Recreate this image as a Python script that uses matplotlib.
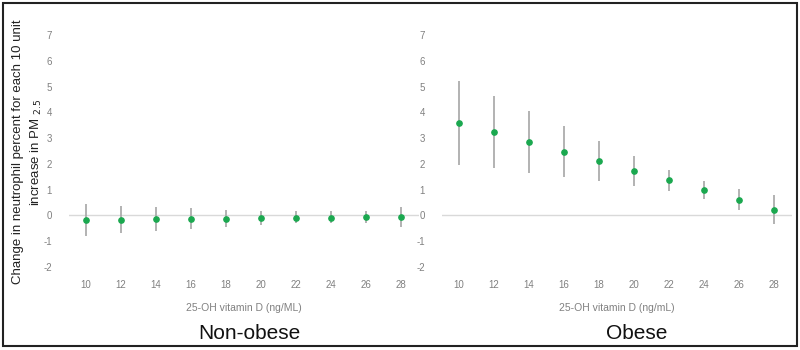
import matplotlib
matplotlib.use("Agg")
import matplotlib.pyplot as plt
from matplotlib.patches import Rectangle

vitd = ["10", "12", "14", "16", "18", "20", "22", "24", "26", "28"]

nonobese_est = [-0.17, -0.16, -0.14, -0.14, -0.12, -0.10, -0.10, -0.08, -0.06, -0.07]
nonobese_lo = [-0.78, -0.68, -0.59, -0.52, -0.44, -0.37, -0.31, -0.30, -0.31, -0.43]
nonobese_hi = [0.45, 0.37, 0.32, 0.27, 0.21, 0.18, 0.17, 0.17, 0.19, 0.31]

obese_est = [3.60, 3.22, 2.86, 2.48, 2.10, 1.72, 1.36, 0.98, 0.60, 0.22]
obese_lo = [1.97, 1.83, 1.64, 1.51, 1.32, 1.16, 0.93, 0.64, 0.20, -0.34]
obese_hi = [5.22, 4.62, 4.04, 3.46, 2.88, 2.31, 1.77, 1.33, 1.02, 0.80]

yticks = [-2, -1, 0, 1, 2, 3, 4, 5, 6, 7]

ylabel_lines = ["Change in neutrophil percent for each 10 unit", "increase in PM $_{2.5}$"]

panels = [
    ("Non-obese", "25-OH vitamin D (ng/ML)", nonobese_est, nonobese_lo, nonobese_hi),
    ("Obese", "25-OH vitamin D (ng/mL)", obese_est, obese_lo, obese_hi),
]

W, H = 800, 350
fig = plt.figure(figsize=(8, 3.5), dpi=100)
plt.rcParams['font.family'] = ['Liberation Sans', 'DejaVu Sans']

ax_left_px = [68.5, 441.5]
ax_w_px = 350
ax_top_px, ax_bot_px = 35, 267
title_cx_px = [249, 637]

green = "#1aa84f"
gray_err = "#a6a6a6"
tick_col = "#808080"

for i, (title, xlabel, est, lo, hi) in enumerate(panels):
    ax = fig.add_axes([ax_left_px[i] / W, 1 - ax_bot_px / H, ax_w_px / W, (ax_bot_px - ax_top_px) / H])
    x = list(range(len(vitd)))
    yerr = [[e - l for e, l in zip(est, lo)], [h - e for e, h in zip(est, hi)]]
    ax.axhline(0, color="#d9d9d9", lw=1.0, zorder=1)
    ax.errorbar(x, est, yerr=yerr, fmt="o", color=green, ms=3.8, ecolor=gray_err,
                elinewidth=1.2, capsize=0, zorder=3)
    ax.set_xlim(-0.5, len(vitd) - 0.5)
    ax.set_ylim(-2, 7)
    ax.set_xticks(x)
    ax.set_xticklabels(vitd)
    ax.set_yticks(yticks)
    ax.set_yticklabels([str(t) for t in yticks])
    ax.tick_params(axis="both", length=0, labelsize=7, labelcolor=tick_col)
    ax.tick_params(axis="x", pad=9)
    ax.tick_params(axis="y", pad=12)
    for s in ax.spines.values():
        s.set_visible(False)
    ax.set_xlabel(xlabel, fontsize=7.5, color=tick_col, labelpad=10)
    fig.text(title_cx_px[i] / W, 1 - 333.5 / H, title, ha="center", va="center", fontsize=15,
             color="#111111")

for line, xpx in zip(ylabel_lines, [18.5, 36.5]):
    fig.text(xpx / W, 1 - 152 / H, line, rotation=90, ha="center", va="center",
             fontsize=9.5, color="#222222")

fig.add_artist(Rectangle((2.5 / W, 1 - 346 / H), (797 - 2.5) / W, (346 - 2.5) / H,
                         transform=fig.transFigure, fill=False, lw=1.5, ec="#222222"))

fig.savefig("out.png", dpi=100, facecolor="white")
